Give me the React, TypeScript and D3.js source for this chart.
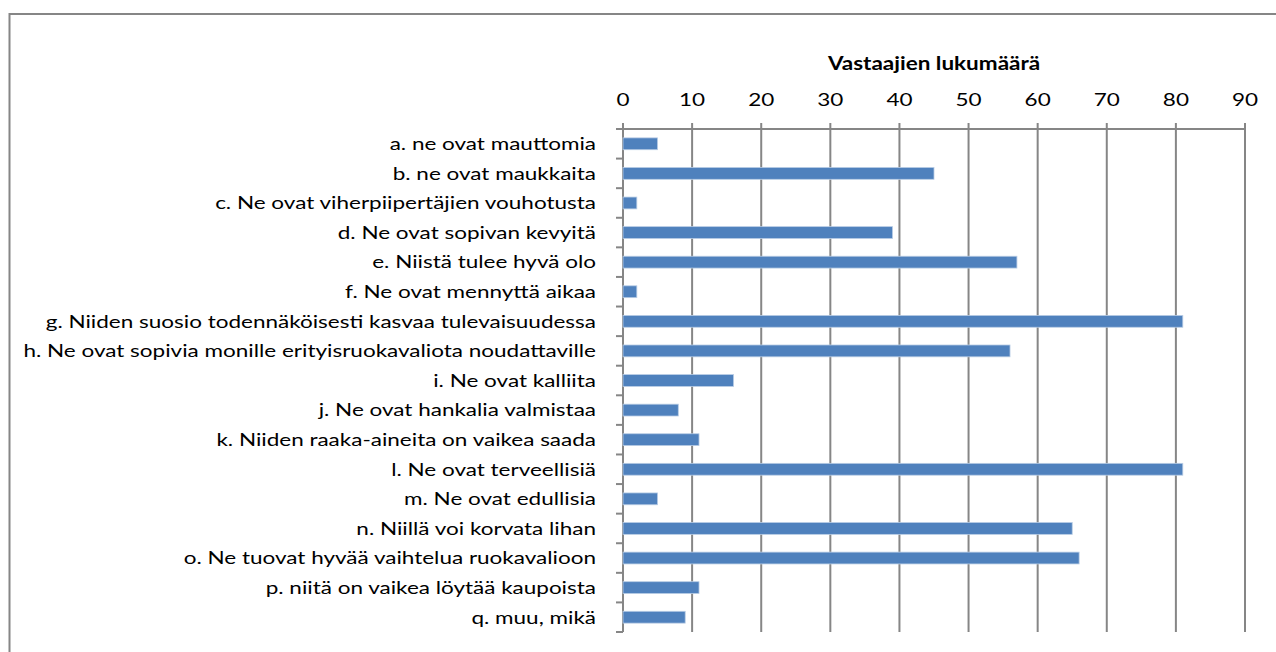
import React from 'react';
import * as d3 from 'd3';

const categories = [
  'a. ne ovat mauttomia',
  'b. ne ovat maukkaita',
  'c. Ne ovat viherpiipertäjien vouhotusta',
  'd. Ne ovat sopivan kevyitä',
  'e. Niistä tulee hyvä olo',
  'f. Ne ovat mennyttä aikaa',
  'g. Niiden suosio todennäköisesti kasvaa tulevaisuudessa',
  'h. Ne ovat sopivia monille erityisruokavaliota noudattaville',
  'i. Ne ovat kalliita',
  'j. Ne ovat hankalia valmistaa',
  'k. Niiden raaka-aineita on vaikea saada',
  'l. Ne ovat terveellisiä',
  'm. Ne ovat edullisia',
  'n. Niillä voi korvata lihan',
  'o. Ne tuovat hyvää vaihtelua ruokavalioon',
  'p. niitä on vaikea löytää kaupoista',
  'q. muu, mikä',
];
const counts = [5, 45, 2, 39, 57, 2, 81, 56, 16, 8, 11, 81, 5, 65, 66, 11, 9];
const ticks = [0, 10, 20, 30, 40, 50, 60, 70, 80, 90];
const axisTitle = 'Vastaajien lukumäärä';

const W = 1276;
const H = 652;
const margin = { left: 623, right: 31, top: 129, bottom: 20 };
const font = 'Lato, "Open Sans", sans-serif';
const gridColor = '#868686';
// the original text is rendered a bit wide, so stretch it horizontally
const sx = 1.25;

export default function App() {
  const x = d3.scaleLinear().domain([0, 90]).range([margin.left, W - margin.right]);
  const y = d3
    .scaleBand<string>()
    .domain(categories)
    .range([margin.top, H - margin.bottom])
    .paddingInner(0.6)
    .paddingOuter(0.3);
  const step = y.step();
  const boundaries = d3.range(categories.length + 1).map(i => margin.top + i * step);
  const [x0, x1] = x.range();

  return (
    <div style={{ position: 'absolute', left: 0, top: 0 }}>
      <svg width={W} height={H} style={{ display: 'block' }}>
        <rect x={0} y={0} width={W} height={H} fill="#fff" />
        {/* chart area border, runs off the right and bottom */}
        <path d={`M9.5,${H + 2}V14H${W + 2}`} fill="none" stroke={gridColor} strokeWidth={2} />

        {/* gridlines + top ticks */}
        {ticks.map(t => (
          <line key={t} x1={x(t)} x2={x(t)} y1={margin.top - 6} y2={H - margin.bottom}
            stroke={gridColor} strokeWidth={2} />
        ))}
        <line x1={x0 - 6} x2={x1} y1={margin.top} y2={margin.top} stroke={gridColor} strokeWidth={2} />
        {ticks.map(t => (
          <text key={'l' + t} transform={`translate(${x(t)},${margin.top - 23}) scale(${sx},1)`}
            textAnchor="middle" fontFamily={font} fontSize={18} fill="#000">{t}</text>
        ))}
        <text transform={`translate(${(x0 + x1) / 2},${margin.top - 59}) scale(${sx},1)`}
          textAnchor="middle" fontFamily={font} fontSize={18} fontWeight="bold" fill="#000">{axisTitle}</text>

        {/* category axis */}
        {boundaries.map((b, i) => (
          <line key={'c' + i} x1={x0 - 7} x2={x0} y1={b} y2={b} stroke={gridColor} strokeWidth={2} />
        ))}

        {categories.map((c, i) => (
          <g key={c}>
            <rect x={x0} y={y(c)} width={x(counts[i]) - x0} height={y.bandwidth()}
              fill="#4f81bd" stroke="#b9cde5" strokeWidth={0.8} />
            <text transform={`translate(${x0 - 27},${(y(c) ?? 0) + y.bandwidth() / 2}) scale(${sx},1)`}
              dy="0.35em" textAnchor="end" fontFamily={font} fontSize={18} fill="#000">{c}</text>
          </g>
        ))}
      </svg>
    </div>
  );
}
